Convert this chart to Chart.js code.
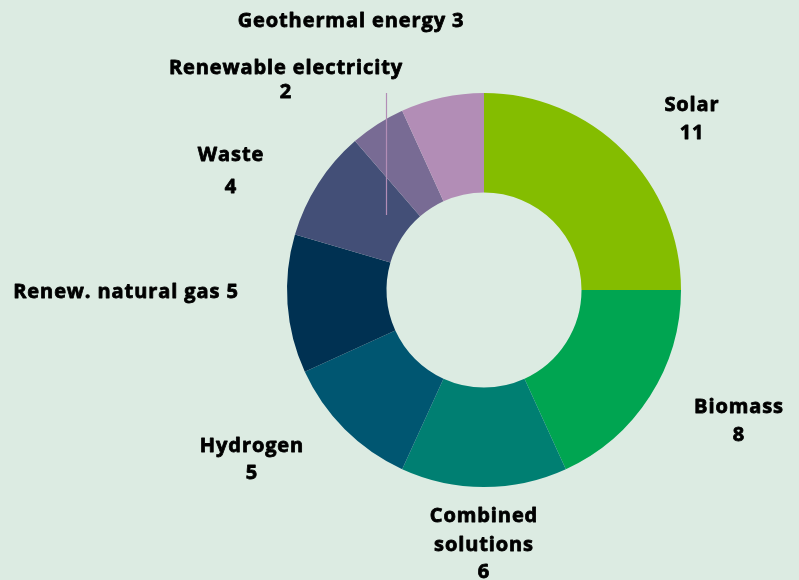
<!DOCTYPE html>
<html>
<head>
<meta charset="utf-8">
<script src="https://cdn.jsdelivr.net/npm/chart.js@4"></script>
<style>
  html, body { margin: 0; padding: 0; background: #dcebe2; }
  #wrap { width: 799px; height: 580px; position: relative; }
</style>
</head>
<body>
<div id="wrap"><canvas id="energyChart"></canvas></div>
<script>
// data
const categories = ["Solar", "Biomass", "Combined solutions", "Hydrogen", "Renew. natural gas", "Waste", "Renewable electricity", "Geothermal energy"];
const projects = [11, 8, 6, 5, 5, 4, 2, 3];
const sliceColors = ["#84bd00", "#00a551", "#007f72", "#005671", "#003152", "#434f77", "#786b94", "#b28db6"];

// how each label is written (lines) and where it sits relative to the doughnut centre
const labelLines = [
  ["Solar", "11"],
  ["Biomass", "8"],
  ["Combined", "solutions", "6"],
  ["Hydrogen", "5"],
  ["Renew. natural gas 5"],
  ["Waste", "4"],
  ["Renewable electricity", "2"],
  ["Geothermal energy 3"]
];
const labelPlace = [
  { dx: 208, dy: [-187, -159] },
  { dx: 255, dy: [115, 143] },
  { dx: 0, dy: [224, 253, 280] },
  { dx: -232, dy: [154, 181] },
  { dx: -358, dy: [0] },
  { dx: -253, dy: [-137, -105] },
  { dx: -198, dy: [-224, -200] },
  { dx: -133, dy: [-271] }
];

// labels drawn outside the ring + the small leader line for "Renewable electricity"
const outsideLabels = {
  id: "outsideLabels",
  afterDraw(chart) {
    const ctx = chart.ctx;
    const arc = chart.getDatasetMeta(0).data[0];
    const cx = arc.x, cy = arc.y;
    ctx.save();
    ctx.strokeStyle = "#b28db6";
    ctx.lineWidth = 1.2;
    ctx.beginPath();
    ctx.moveTo(cx - 97.5, cy - 197);
    ctx.lineTo(cx - 97.5, cy - 75);
    ctx.stroke();

    ctx.fillStyle = "#000000";
    ctx.strokeStyle = "#000000";
    ctx.lineWidth = 0.8;
    ctx.lineJoin = "round";
    ctx.font = "bold 20px 'Open Sans'";
    ctx.letterSpacing = "0.9px";
    ctx.textAlign = "center";
    ctx.textBaseline = "middle";
    labelLines.forEach((lines, i) => {
      const p = labelPlace[i];
      lines.forEach((t, j) => {
        ctx.fillText(t, cx + p.dx, cy + p.dy[j] + 2);
        ctx.strokeText(t, cx + p.dx, cy + p.dy[j] + 2);
      });
    });
    ctx.restore();
  }
};

const ctx = document.getElementById("energyChart").getContext("2d");
new Chart(ctx, {
  type: "doughnut",
  data: {
    labels: categories,
    datasets: [{
      data: projects,
      backgroundColor: sliceColors,
      borderWidth: 0,
      hoverOffset: 0
    }]
  },
  options: {
    responsive: true,
    maintainAspectRatio: false,
    animation: false,
    cutout: "49.5%",
    layout: { padding: { left: 287, right: 118, top: 93, bottom: 93 } },
    plugins: {
      legend: { display: false },
      tooltip: { enabled: false }
    }
  },
  plugins: [outsideLabels]
});
</script>
</body>
</html>
